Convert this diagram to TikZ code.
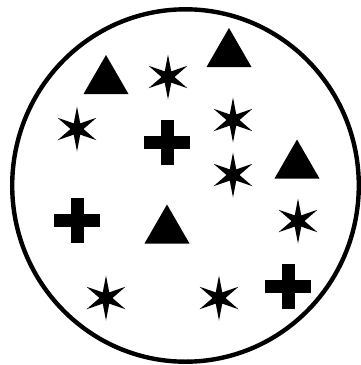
\documentclass[tikz,border=0pt]{standalone}
\begin{document}
\begin{tikzpicture}[x=1pt,y=-1pt,
  shapefill/.style={fill=black,draw=none},
  rim/.style={draw=black,line width=4.4pt},
  hexstar/.pic={\fill[shapefill] (90:22.5) -- (60:6.5) -- (30:22.5) -- (0:6.5) -- (-30:22.5) -- (-60:6.5) -- (-90:22.5) -- (-120:6.5) -- (-150:22.5) -- (180:6.5) -- (150:22.5) -- (120:6.5) -- cycle;},
  tri/.pic={\fill[shapefill] (0,-19.5) -- (22.5,19.5) -- (-22.5,19.5) -- cycle;},
  cross/.pic={\fill[shapefill] (-6.5,-22.5) rectangle (6.5,22.5); \fill[shapefill] (-23,-6.5) rectangle (23,6.5);}
]
\useasboundingbox (0,0) rectangle (361,365);
\draw[rim] (185.5,185.5) ellipse [x radius=173.3, y radius=176.2];
% triangles
\pic at (106,74.5) {tri};
\pic at (229,47.5) {tri};
\pic at (297,159) {tri};
\pic at (167,224) {tri};
% stars
\pic at (168,77) {hexstar};
\pic at (77,129) {hexstar};
\pic at (233,120) {hexstar};
\pic at (233,175) {hexstar};
\pic at (298,221) {hexstar};
\pic at (106,298) {hexstar};
\pic at (219,298) {hexstar};
% crosses
\pic at (167,142) {cross};
\pic at (77,220) {cross};
\pic at (288,286) {cross};
\end{tikzpicture}
\end{document}
